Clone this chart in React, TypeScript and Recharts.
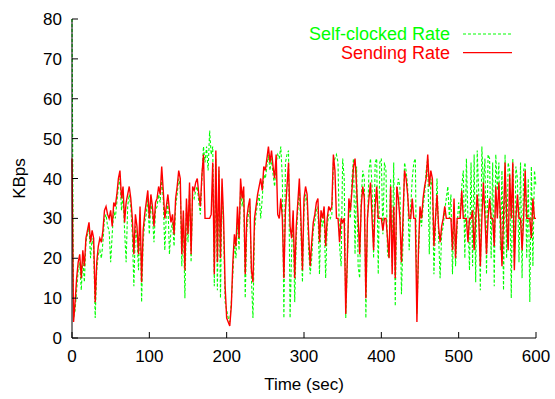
import React from 'react';
import { LineChart, Line, XAxis, YAxis, Legend } from 'recharts';

// Sampling step of the traces (seconds)
const STEP_SEC = 2;

const SERIES_NAMES = ['Self-clocked Rate', 'Sending Rate'];

// Self-clocked Rate (KBps), one value every 2 s from t = 0 to t = 600
const selfClocked: number[] = [
  80, 5, 7, 12, 17, 19, 12, 20, 14, 24,
  26, 28, 20, 25, 23, 5, 17, 21, 22, 20,
  24, 30, 31, 28, 27, 19, 26, 32, 30, 34,
  38, 40, 32, 36, 27, 19, 33, 36, 33, 26,
  13, 28, 25, 17, 31, 9, 24, 29, 31, 35,
  26, 34, 31, 24, 32, 33, 36, 34, 40, 35,
  22, 31, 34, 21, 27, 29, 23, 33, 36, 40,
  38, 18, 30, 10, 33, 24, 37, 19, 36, 35,
  37, 38, 34, 31, 40, 48, 44, 48, 42, 52,
  46, 48, 13, 45, 12, 42, 10, 38, 27, 9,
  7, 5, 4, 9, 16, 24, 20, 30, 22, 38,
  33, 36, 10, 27, 31, 33, 15, 5, 27, 31,
  34, 36, 30, 35, 41, 40, 43, 46, 42, 45,
  41, 38, 44, 46, 45, 48, 40, 5, 44, 46,
  47, 5, 22, 30, 9, 25, 32, 38, 27, 14,
  32, 36, 34, 22, 16, 20, 27, 29, 32, 33,
  16, 30, 28, 31, 15, 28, 31, 30, 31, 44,
  45, 46, 44, 23, 18, 45, 40, 5, 18, 33,
  30, 40, 45, 21, 43, 18, 15, 35, 42, 40,
  5, 28, 42, 45, 38, 20, 44, 45, 16, 44,
  45, 26, 44, 42, 21, 20, 40, 18, 44, 8,
  36, 40, 38, 11, 24, 44, 42, 38, 22, 33,
  40, 44, 45, 6, 20, 31, 28, 33, 36, 42,
  45, 21, 40, 38, 16, 28, 40, 26, 15, 26,
  28, 32, 35, 38, 30, 36, 16, 33, 18, 28,
  34, 30, 38, 42, 20, 45, 30, 17, 44, 18,
  46, 14, 47, 36, 12, 48, 38, 45, 16, 46,
  45, 20, 44, 13, 46, 37, 44, 22, 42, 12,
  46, 20, 44, 42, 10, 45, 18, 43, 40, 19,
  44, 15, 42, 44, 20, 40, 9, 43, 18, 42,
  38,
];

// Sending Rate (KBps), one value every 2 s from t = 0 to t = 600
const sending: number[] = [
  45, 4, 9, 15, 19, 21, 15, 22, 18, 25,
  27, 29, 24, 27, 25, 9, 19, 23, 25, 24,
  27, 32, 33, 31, 30, 32, 28, 34, 33, 36,
  40, 42, 35, 38, 29, 34, 36, 38, 35, 30,
  21, 31, 28, 21, 33, 14, 27, 31, 34, 37,
  30, 36, 33, 28, 34, 35, 38, 36, 43, 37,
  30, 33, 36, 32, 29, 31, 26, 35, 38, 42,
  40, 21, 32, 17, 35, 26, 39, 21, 38, 37,
  39, 40, 36, 33, 41, 46, 30, 30, 30, 30,
  31, 44, 16, 47, 19, 43, 20, 40, 30, 13,
  5, 4, 3, 8, 19, 26, 23, 33, 25, 40,
  35, 38, 16, 30, 33, 35, 17, 14, 30, 33,
  36, 38, 40, 37, 43, 42, 45, 48, 44, 47,
  43, 40, 46, 31, 30, 35, 30, 15, 32, 38,
  44, 28, 25, 32, 15, 28, 34, 40, 30, 17,
  35, 38, 36, 26, 18, 24, 29, 31, 34, 35,
  24, 32, 30, 33, 23, 30, 33, 32, 33, 46,
  42, 30, 30, 24, 30, 29, 30, 6, 20, 35,
  32, 37, 43, 45, 38, 30, 21, 33, 38, 35,
  10, 30, 35, 39, 30, 22, 33, 38, 30, 30,
  30, 27, 30, 30, 25, 20, 38, 16, 33, 15,
  38, 35, 30, 19, 30, 42, 40, 36, 30, 30,
  35, 30, 30, 4, 22, 33, 30, 35, 38, 40,
  46, 38, 42, 40, 23, 30, 36, 28, 24, 28,
  30, 33, 30, 30, 30, 30, 22, 35, 20, 30,
  30, 30, 37, 30, 30, 30, 24, 30, 30, 32,
  22, 30, 36, 30, 18, 30, 39, 30, 21, 30,
  35, 30, 30, 23, 38, 30, 39, 30, 18, 30,
  44, 30, 22, 41, 30, 44, 17, 30, 36, 30,
  30, 22, 30, 42, 30, 30, 30, 25, 35, 30,
  30,
];

const X_TICKS = [0, 100, 200, 300, 400, 500, 600];
const Y_TICKS = [0, 10, 20, 30, 40, 50, 60, 70, 80];

const data = sending.map((v, i) => ({
  t: i * STEP_SEC,
  self: selfClocked[i],
  send: v,
}));

const FONT = '"Liberation Sans", Arial, Helvetica, sans-serif';
const GREEN = '#00ff00';
const RED = '#ff0000';

const LegendBox = () => (
  <svg width={260} height={50} style={{ display: 'block' }}>
    <text x={170} y={25} textAnchor="end" fill={GREEN} fontFamily={FONT} fontSize={18}>
      {SERIES_NAMES[0]}
    </text>
    <line x1={183} x2={232} y1={19} y2={19} stroke={GREEN} strokeWidth={1} strokeDasharray="3 2" />
    <text x={170} y={44} textAnchor="end" fill={RED} fontFamily={FONT} fontSize={18}>
      {SERIES_NAMES[1]}
    </text>
    <line x1={183} x2={232} y1={37.7} y2={37.7} stroke={RED} strokeWidth={1.3} />
  </svg>
);

export default function App() {
  const tickStyle = { fill: '#000', fontFamily: FONT, fontSize: 17 };
  return (
    <div style={{ position: 'absolute', left: 0, top: 0, background: '#fff' }}>
      <LineChart width={555} height={399} data={data} margin={{ top: 19, right: 19, bottom: 0, left: 12 }}>
        <XAxis
          xAxisId="bottom"
          type="number"
          dataKey="t"
          domain={[0, 600]}
          ticks={X_TICKS}
          height={61}
          tickSize={-6}
          tickMargin={18}
          stroke="#000"
          tick={tickStyle}
          label={{ value: 'Time (sec)', position: 'insideBottom', offset: 9, fill: '#000', fontFamily: FONT, fontSize: 17 }}
        />
        <XAxis
          xAxisId="top"
          orientation="top"
          type="number"
          dataKey="t"
          domain={[0, 600]}
          ticks={X_TICKS}
          height={0}
          tickSize={-6}
          tick={false}
          stroke="#000"
        />
        <YAxis
          yAxisId="left"
          type="number"
          domain={[0, 80]}
          ticks={Y_TICKS}
          width={60}
          tickSize={-6}
          tickMargin={16}
          stroke="#000"
          tick={tickStyle}
          label={{ value: 'KBps', angle: -90, position: 'insideLeft', offset: 7, fill: '#000', fontFamily: FONT, fontSize: 17, style: { textAnchor: 'middle' } }}
        />
        <YAxis
          yAxisId="right"
          orientation="right"
          type="number"
          domain={[0, 80]}
          ticks={Y_TICKS}
          width={0}
          tickSize={-6}
          tick={false}
          stroke="#000"
        />
        <Legend
          layout="vertical"
          align="center"
          verticalAlign="middle"
          wrapperStyle={{ position: 'absolute', left: 280, top: 15, width: 260, height: 50 }}
          content={() => <LegendBox />}
        />
        <Line
          xAxisId="bottom"
          yAxisId="left"
          type="linear"
          dataKey="self"
          name={SERIES_NAMES[0]}
          stroke={GREEN}
          strokeWidth={1.1}
          strokeDasharray="3 2"
          dot={false}
          activeDot={false}
          isAnimationActive={false}
        />
        <Line
          xAxisId="bottom"
          yAxisId="left"
          type="linear"
          dataKey="send"
          name={SERIES_NAMES[1]}
          stroke={RED}
          strokeWidth={1.4}
          dot={false}
          activeDot={false}
          isAnimationActive={false}
        />
      </LineChart>
    </div>
  );
}
